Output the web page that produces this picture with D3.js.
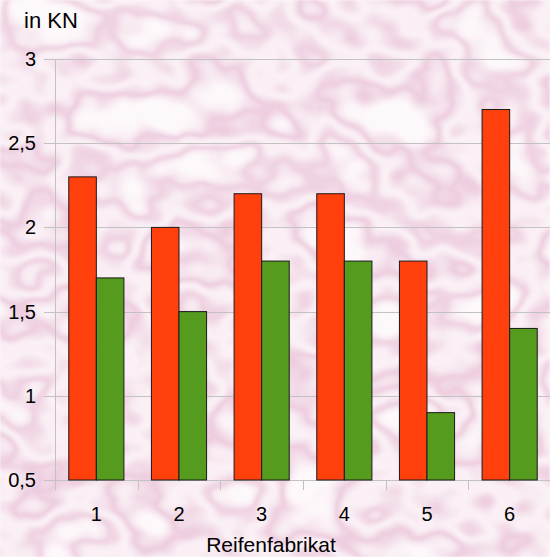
<!DOCTYPE html>
<html>
<head>
<meta charset="utf-8">
<script src="https://cdn.jsdelivr.net/npm/d3@7"></script>
<style>
  html, body { margin: 0; padding: 0; background: #fff; }
  svg { display: block; font-family: "Liberation Sans", Arial, sans-serif; }
</style>
</head>
<body>
<div id="chart"></div>
<script>
// chart values
const categories = ['1', '2', '3', '4', '5', '6'];
const seriesRed = [2.3, 2.0, 2.2, 2.2, 1.8, 2.7];
const seriesGreen = [1.7, 1.5, 1.8, 1.8, 0.9, 1.4];
const yTicks = [0.5, 1, 1.5, 2, 2.5, 3];

const W = 550, H = 557;
const margin = { top: 59, right: -1, bottom: 77, left: 55 };
const innerW = W - margin.left - margin.right;
const innerH = H - margin.top - margin.bottom;

const svg = d3.select('#chart').append('svg')
    .attr('width', W)
    .attr('height', H);

// marble-like pink background: thin contour bands of noise, flooded pink
const defs = svg.append('defs');
const f = defs.append('filter').attr('id', 'marble')
    .attr('x', 0).attr('y', 0).attr('width', '100%').attr('height', '100%')
    .attr('color-interpolation-filters', 'sRGB');
f.append('feTurbulence')
    .attr('type', 'fractalNoise')
    .attr('baseFrequency', '0.011 0.014')
    .attr('numOctaves', 3)
    .attr('seed', 5)
    .attr('result', 'noise');
f.append('feColorMatrix')
    .attr('in', 'noise')
    .attr('type', 'matrix')
    .attr('values', '0 0 0 0 0  0 0 0 0 0  0 0 0 0 0  1 0 0 0 0')
    .attr('result', 'mask0');
const ct = f.append('feComponentTransfer').attr('in', 'mask0').attr('result', 'mask');
ct.append('feFuncA').attr('type', 'table')
    .attr('tableValues', '0 0 0 0 0 0.02 0.1 0.3 0.55 0.3 0.1 0.12 0.35 0.5 0.2 0.05 0 0 0 0 0');
f.append('feGaussianBlur').attr('in', 'mask').attr('stdDeviation', 1.2).attr('result', 'soft');
f.append('feFlood').attr('flood-color', '#e0a8c8').attr('result', 'pink');
f.append('feComposite').attr('in', 'pink').attr('in2', 'soft').attr('operator', 'in');

svg.append('rect').attr('width', W).attr('height', H).attr('fill', '#fdf9fb');
svg.append('rect').attr('width', W).attr('height', H).attr('filter', 'url(#marble)');

const g = svg.append('g').attr('transform', `translate(${margin.left},${margin.top})`);

const x0 = d3.scaleBand().domain(categories).range([0, innerW]).paddingInner(0.333).paddingOuter(0.1665);
const x1 = d3.scaleBand().domain(['red', 'green']).range([0, x0.bandwidth()]);
const y = d3.scaleLinear().domain([0.5, 3]).range([innerH, 0]);

// gridlines
g.selectAll('line.grid').data(yTicks).enter().append('line')
    .attr('class', 'grid')
    .attr('x1', -11).attr('x2', innerW)
    .attr('y1', d => Math.round(y(d)) + 0.5).attr('y2', d => Math.round(y(d)) + 0.5)
    .attr('stroke', '#c2c2c2').attr('stroke-width', 1);

// y axis line
g.append('line')
    .attr('x1', 0.5).attr('x2', 0.5)
    .attr('y1', 0).attr('y2', innerH + 10)
    .attr('stroke', '#c2c2c2');

// x ticks at category boundaries
const bounds = d3.range(categories.length).map(i => i * innerW / categories.length);
g.selectAll('line.xtick').data(bounds).enter().append('line')
    .attr('x1', d => Math.round(d) + 0.5).attr('x2', d => Math.round(d) + 0.5)
    .attr('y1', innerH).attr('y2', innerH + 10)
    .attr('stroke', '#c2c2c2');

// bars
const groups = g.selectAll('g.cat').data(categories).enter().append('g')
    .attr('transform', d => `translate(${x0(d)},0)`);

groups.append('rect')
    .attr('x', x1('red'))
    .attr('y', (d, i) => y(seriesRed[i]))
    .attr('width', x1.bandwidth())
    .attr('height', (d, i) => innerH - y(seriesRed[i]))
    .attr('fill', '#ff400d')
    .attr('stroke', '#1a1a1a').attr('stroke-width', 1);

groups.append('rect')
    .attr('x', x1('green'))
    .attr('y', (d, i) => y(seriesGreen[i]))
    .attr('width', x1.bandwidth())
    .attr('height', (d, i) => innerH - y(seriesGreen[i]))
    .attr('fill', '#559b1e')
    .attr('stroke', '#1a1a1a').attr('stroke-width', 1);

// y tick labels
g.selectAll('text.ylab').data(yTicks).enter().append('text')
    .attr('x', -19).attr('y', d => y(d) + 7)
    .attr('text-anchor', 'end')
    .attr('font-size', 20)
    .attr('fill', '#000')
    .text(d => d3.format('.1~f')(d).replace('.', ','));

// x tick labels
g.selectAll('text.xlab').data(categories).enter().append('text')
    .attr('x', d => x0(d) + x0.bandwidth() / 2)
    .attr('y', innerH + 41)
    .attr('text-anchor', 'middle')
    .attr('font-size', 20)
    .attr('fill', '#000')
    .text(d => d);

// titles
svg.append('text').attr('x', 24).attr('y', 28)
    .attr('font-size', 22).attr('fill', '#000').text('in KN');
svg.append('text').attr('x', 271).attr('y', 552)
    .attr('text-anchor', 'middle')
    .attr('font-size', 21).attr('fill', '#000').text('Reifenfabrikat');
</script>
</body>
</html>
